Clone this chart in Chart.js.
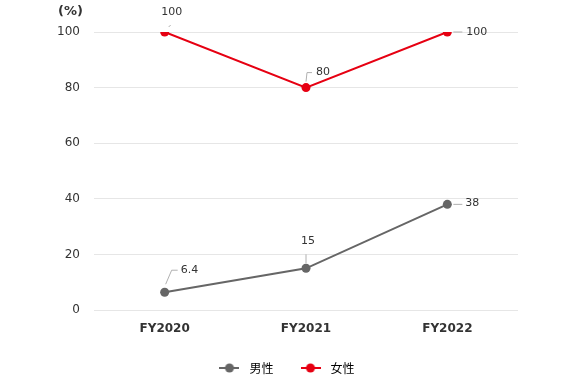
<!DOCTYPE html>
<html>
<head>
<meta charset="utf-8">
<script src="https://cdn.jsdelivr.net/npm/chart.js@4"></script>
<style>
  html, body { margin: 0; padding: 0; background: #fff; }
  #wrap { width: 570px; height: 376px; position: relative; }
</style>
</head>
<body>
<div id="wrap"><canvas id="chart"></canvas></div>
<script>
const categories = ['FY2020', 'FY2021', 'FY2022'];
const maleValues = [6.4, 15, 38];
const femaleValues = [100, 80, 100];
const seriesNames = ['男性', '女性'];
const yTicks = [0, 20, 40, 60, 80, 100];

const GRAY = '#666666';
const RED = '#e60012';

Chart.defaults.font.family = "'DejaVu Sans', 'Noto Sans CJK JP', sans-serif";
Chart.defaults.color = '#333';

// legend marker: short line with a dot
function legendMarker(color) {
    const c = document.createElement('canvas');
    c.width = 20;
    c.height = 10;
    const g = c.getContext('2d');
    g.strokeStyle = color;
    g.lineWidth = 2;
    g.beginPath();
    g.moveTo(0, 5);
    g.lineTo(20, 5);
    g.stroke();
    g.fillStyle = color;
    g.beginPath();
    g.arc(10, 5, 4.5, 0, Math.PI * 2);
    g.fill();
    return c;
}

// leader-line labels: [dx, dy] path points relative to the point, text anchor at the end
const labelLayout = [
    [ // male
        {path: [[1, -8], [7, -22], [13, -22]], text: [16, -22], align: 'left'},
        {path: [[0, -5], [0, -14]], text: [2, -27], align: 'center'},
        {path: [[6, 0], [15, 0]], text: [18, -1], align: 'left'}
    ],
    [ // female
        {path: [[4, -5], [6, -7]], text: [7, -20], align: 'center'},
        {path: [[0, -6], [1, -15], [6, -15]], text: [10, -15], align: 'left'},
        {path: [[6, 0], [15, 0]], text: [19, 0], align: 'left'}
    ]
];

const leaderLabels = {
    id: 'leaderLabels',
    afterDatasetsDraw(chart) {
        const ctx = chart.ctx;
        ctx.save();
        chart.data.datasets.forEach((ds, di) => {
            const meta = chart.getDatasetMeta(di);
            meta.data.forEach((pt, i) => {
                const lay = labelLayout[di][i];
                ctx.strokeStyle = '#b0b0b0';
                ctx.lineWidth = 1;
                ctx.beginPath();
                lay.path.forEach((p, k) => {
                    const x = pt.x + p[0], y = pt.y + p[1];
                    if (k === 0) ctx.moveTo(x, y); else ctx.lineTo(x, y);
                });
                ctx.stroke();
                ctx.fillStyle = '#333';
                ctx.font = "11px 'DejaVu Sans', sans-serif";
                ctx.textAlign = lay.align;
                ctx.textBaseline = 'middle';
                ctx.fillText(String(ds.data[i]), pt.x + lay.text[0], pt.y + lay.text[1]);
            });
        });
        ctx.restore();
    }
};

const unitLabel = {
    id: 'unitLabel',
    afterDraw(chart) {
        const ctx = chart.ctx;
        ctx.save();
        ctx.fillStyle = '#333';
        ctx.font = "bold 13px 'DejaVu Sans', sans-serif";
        ctx.textAlign = 'right';
        ctx.textBaseline = 'middle';
        ctx.fillText('(%)', 83, 12);
        ctx.restore();
    }
};

// keep the legend box short so it sits low under the axis labels
const legendHeight = {
    id: 'legendHeight',
    beforeUpdate(chart) {
        const lg = chart.legend;
        if (lg && !lg._patched) {
            const fit = lg.fit;
            lg.fit = function() {
                fit.call(this);
                this.height = 37;
            };
            lg._patched = true;
        }
    }
};

new Chart(document.getElementById('chart'), {
    type: 'line',
    data: {
        labels: categories,
        datasets: [
            {
                label: seriesNames[0],
                data: maleValues,
                borderColor: GRAY,
                backgroundColor: GRAY,
                borderWidth: 2,
                pointRadius: 4.5,
                pointBorderWidth: 0,
                legendMarker: legendMarker(GRAY)
            },
            {
                label: seriesNames[1],
                data: femaleValues,
                borderColor: RED,
                backgroundColor: RED,
                borderWidth: 2,
                pointRadius: 4.5,
                pointBorderWidth: 0,
                legendMarker: legendMarker(RED)
            }
        ]
    },
    options: {
        responsive: true,
        maintainAspectRatio: false,
        animation: false,
        layout: {padding: {top: 32, right: 0, left: 0, bottom: 0}},
        plugins: {
            tooltip: {enabled: false},
            legend: {
                position: 'bottom',
                labels: {
                    usePointStyle: true,
                    pointStyleWidth: 28,
                    boxHeight: 12,
                    padding: 23,
                    font: {size: 12, family: "'Noto Sans CJK JP', sans-serif"},
                    color: '#333',
                    generateLabels(chart) {
                        return chart.data.datasets.map((ds, i) => ({
                            text: ds.label,
                            pointStyle: ds.legendMarker,
                            fillStyle: ds.borderColor,
                            strokeStyle: ds.borderColor,
                            lineWidth: 0,
                            hidden: false,
                            datasetIndex: i
                        }));
                    }
                }
            }
        },
        scales: {
            x: {
                offset: true,
                grid: {display: false, drawTicks: false},
                border: {display: false},
                ticks: {font: {size: 12, weight: 'bold'}, color: '#333', padding: 12},
                afterFit(scale) { scale.height = 29; }
            },
            y: {
                min: 0,
                max: 100,
                afterBuildTicks(scale) { scale.ticks = yTicks.map(v => ({value: v})); },
                grid: {color: '#e6e6e6', drawTicks: false},
                border: {display: false},
                ticks: {font: {size: 12}, color: '#333', padding: 14},
                afterFit(scale) { scale.width = 94; }
            },
            yRight: {
                position: 'right',
                min: 0,
                max: 100,
                grid: {display: false, drawTicks: false},
                border: {display: false},
                ticks: {display: false},
                afterFit(scale) { scale.width = 52; }
            }
        }
    },
    plugins: [leaderLabels, unitLabel, legendHeight]
});
</script>
</body>
</html>
